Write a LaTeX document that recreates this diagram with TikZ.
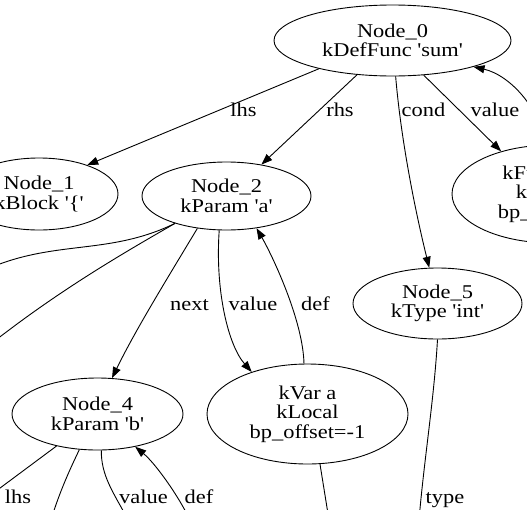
\documentclass[tikz,border=0pt]{standalone}
\usepackage{fontspec}
\setmainfont{Liberation Serif}[FakeStretch=1.15,Ligatures=TeXOff]
\usetikzlibrary{shapes.geometric,arrows.meta}
\begin{document}
\begin{tikzpicture}[x=1pt,y=-1pt,
  gnode/.style={draw, ellipse, inner sep=0pt, align=center, line width=0.9pt,
    font=\fontsize{19.5}{19.5}\selectfont},
  elabel/.style={inner sep=0pt, anchor=base, font=\fontsize{19.5}{19.5}\selectfont},
  edge/.style={line width=0.9pt},
  arr/.style={edge, -{Triangle[length=11pt,width=8pt]}}]
\useasboundingbox (0,0) rectangle (527,509);
% nodes
\node[gnode, minimum width=237pt, minimum height=71pt] (n0) at (392.5,40.5) {Node\_0\\kDefFunc 'sum'};
\node[gnode, minimum width=158pt, minimum height=72pt] (n1) at (39,194) {Node\_1\\kBlock '\{'};
\node[gnode, minimum width=169pt, minimum height=68pt] (n2) at (226.5,196) {Node\_2\\kParam 'a'};
\node[gnode, minimum width=200pt, minimum height=98pt] (n3) at (552,194) {kFunc sum\\kGlobal\\bp\_offset=0};
\node[gnode, minimum width=169pt, minimum height=71pt] (n5) at (437.5,303.5) {Node\_5\\kType 'int'};
\node[gnode, minimum width=171pt, minimum height=72pt] (n4) at (97.5,414) {Node\_4\\kParam 'b'};
\node[gnode, minimum width=201pt, minimum height=100pt] (n6) at (307.5,414) {kVar a\\kLocal\\bp\_offset=-1};
% free ends
\coordinate (a1) at (-8,267);
\coordinate (b1) at (-8,343);
\coordinate (c1) at (-10,495.5);
\coordinate (c2) at (51,520);
\coordinate (c3) at (126,516);
\coordinate (c4) at (190,520);
\coordinate (c5) at (329,520);
\coordinate (c6) at (419,520);
\coordinate (c7) at (560,140);
% edges from Node_0
\draw[arr] (n0.201) -- (n1.31);
\draw[arr] (n0.224) -- (n2.42);
\draw[arr] (n0.275) .. controls (401,140) and (415,210) .. (n5.103);
\draw[arr] (n0.312) -- (n3.140);
\draw[arr] (n3.100) .. controls (542,110) and (510,75) .. (n0.342);
% edges around Node_2
\draw[arr] (n2.228) .. controls (167,279) and (136,329) .. (n4.68);
\draw[arr] (n2.258) .. controls (215,290) and (228,345) .. (n6.143);
\draw[arr] (n6.94) .. controls (303,320) and (272,255) .. (n2.313);
\draw[edge] (n2.208) .. controls (110,255) and (58,240) .. (a1);
\draw[edge] (n2.208) .. controls (120,255) and (60,290) .. (b1);
% edges around Node_4
\draw[edge] (n4.218) -- (c1);
\draw[edge] (n4.243) .. controls (72,465) and (60,490) .. (c2);
\draw[edge] (n4.276) .. controls (101,475) and (113,492) .. (c3);
\draw[arr] (c4) .. controls (178,495) and (155,463) .. (n4.319);
% other edges
\draw[edge] (n6.284) -- (c5);
\draw[edge] (n5.270) .. controls (434,400) and (424,460) .. (c6);
% edge labels
\node[elabel] (l1) at (243.5,116.5) {lhs};
\node[elabel] (l2) at (340,116.5) {rhs};
\node[elabel] (l3) at (423.5,116.5) {cond};
\node[elabel] (l4) at (495,116.5) {value};
\node[elabel] (l5) at (189.5,310.5) {next};
\node[elabel] (l6) at (253,310.5) {value};
\node[elabel] (l7) at (315.5,310.5) {def};
\node[elabel] (l8) at (18,503) {lhs};
\node[elabel] (l9) at (143.5,503) {value};
\node[elabel] (l10) at (199,503) {def};
\node[elabel] (l11) at (445,503) {type};
\end{tikzpicture}
\end{document}
